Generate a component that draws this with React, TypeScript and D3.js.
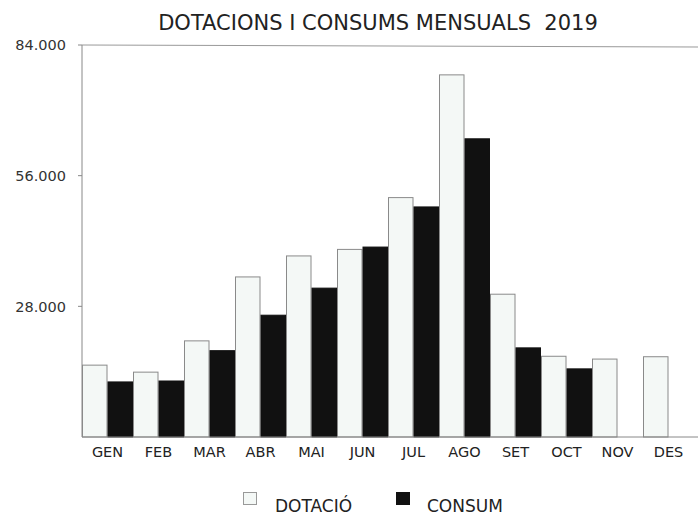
import React from "react";
import * as d3 from "d3";

const months = ["GEN", "FEB", "MAR", "ABR", "MAI", "JUN", "JUL", "AGO", "SET", "OCT", "NOV", "DES"];
const dotacio = [15400, 13900, 20600, 34300, 38800, 40200, 51300, 77600, 30600, 17300, 16700, 17200];
const consum = [11800, 12000, 18500, 26100, 31900, 40700, 49300, 63900, 19100, 14600, 0, 0];
const yTicks = [28000, 56000, 84000];
const seriesNames = ["DOTACIÓ", "CONSUM"];
const title = "DOTACIONS I CONSUMS MENSUALS\u00a0\u00a02019";

const W = 698;
const H = 515;
const left = 82;
const right = 694;
const top = 45;
const bottom = 437;
const FONT = "'DejaVu Sans', Verdana, sans-serif";
const fills = ["#f4f8f6", "#111111"];
const strokes = ["#8a8a8a", "#111111"];

const locale = d3.formatLocale({ decimal: ",", thousands: ".", grouping: [3], currency: ["", "€"] });
const fmt = locale.format(",");

export default function App() {
  const x = d3.scaleBand<string>().domain(months).range([left, right]).padding(0);
  const inner = d3.scaleBand<string>().domain(seriesNames).range([0, x.bandwidth()]).padding(0);
  const y = d3.scaleLinear().domain([0, 84000]).range([bottom, top]);
  const series = [dotacio, consum];

  return (
    <svg width={W} height={H} style={{ position: "absolute", left: 0, top: 0, background: "#fff" }} fontFamily={FONT}>
      <text x={378} y={30} textAnchor="middle" fontSize={21} fill="#222">{title}</text>
      {/* top border */}
      <line x1={left} x2={W} y1={top} y2={top + 2} stroke="#999" strokeWidth={1} />
      {/* y axis */}
      <line x1={left} x2={left} y1={top} y2={bottom} stroke="#888" strokeWidth={1} />
      {yTicks.map((t) => (
        <g key={t}>
          <line x1={left - 4} x2={left} y1={y(t)} y2={y(t)} stroke="#888" />
          <text x={66} y={y(t)} dy="0.36em" textAnchor="end" fontSize={14.5} fill="#333">{fmt(t)}</text>
        </g>
      ))}
      {/* bars */}
      {months.map((m, i) => (
        <g key={m}>
          {series.map((s, j) =>
            s[i] > 0 ? (
              <rect
                key={j}
                x={(x(m) as number) + (inner(seriesNames[j]) as number) + 0.5}
                y={y(s[i])}
                width={inner.bandwidth() - 1}
                height={bottom - y(s[i])}
                fill={fills[j]}
                stroke={strokes[j]}
                strokeWidth={1}
              />
            ) : null
          )}
          <text x={(x(m) as number) + x.bandwidth() / 2} y={457} textAnchor="middle" fontSize={14.5} fill="#222">{m}</text>
        </g>
      ))}
      {/* x axis */}
      <line x1={left} x2={W} y1={bottom} y2={bottom} stroke="#888" strokeWidth={1} />
      {/* legend */}
      <rect x={243.5} y={492.5} width={13} height={12} fill={fills[0]} stroke="#999" />
      <text x={275} y={512} fontSize={17} fill="#222">{seriesNames[0]}</text>
      <rect x={396} y={492} width={14} height={13} fill={fills[1]} />
      <text x={427} y={512} fontSize={17} fill="#222">{seriesNames[1]}</text>
    </svg>
  );
}
